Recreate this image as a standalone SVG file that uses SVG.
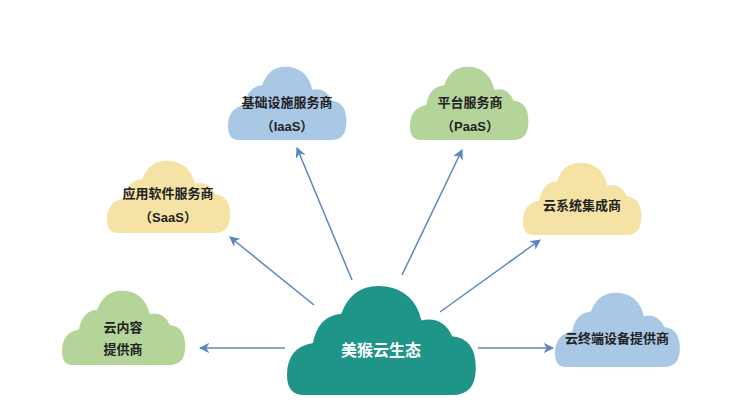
<svg xmlns="http://www.w3.org/2000/svg" width="750" height="413" viewBox="0 0 750 413">
<style>
text{font-family:"Liberation Sans","Noto Sans CJK SC",sans-serif;font-weight:bold;font-size:13px;fill:#222;text-anchor:middle}
.c text{}
.ar{stroke:#5b87c0;stroke-width:1.5;fill:none;marker-end:url(#m)}
</style>
<defs>
<marker id="m" viewBox="0 0 10 10" refX="9" refY="5" markerWidth="7" markerHeight="7" orient="auto"><path d="M0,0L10,5L0,10L3,5Z" fill="#5b87c0"/></marker>
<path id="cl" d="M14,100 Q0,100 0,82 Q0,58 22,54 Q26,30 46,28 Q56,0 84,4 Q108,8 114,34 Q132,30 140,48 Q160,50 160,76 Q160,100 140,100 Z"/>
</defs>
<rect width="750" height="413" fill="#fff"/>
<g id="connectors">
<line class="ar" x1="352" y1="280" x2="297" y2="148"/>
<line class="ar" x1="402" y1="275" x2="462" y2="150"/>
<line class="ar" x1="314" y1="305" x2="230" y2="237"/>
<line class="ar" x1="440" y1="312" x2="540" y2="240"/>
<line class="ar" x1="285" y1="348" x2="200" y2="348"/>
<line class="ar" x1="478" y1="348" x2="553" y2="348"/>
</g>
<g id="iaas"><use href="#cl" fill="#a9c8e6" transform="translate(228,64) scale(0.74,0.76)"/><text x="287" y="107">基础设施服务商</text><text x="287" y="131">（IaaS）</text></g>
<g id="paas"><use href="#cl" fill="#b5d49a" transform="translate(410,64) scale(0.74,0.76)"/><text x="470" y="107">平台服务商</text><text x="470" y="131">（PaaS）</text></g>
<g id="saas"><use href="#cl" fill="#f5e3a6" transform="translate(107,158) scale(0.77,0.75)"/><text x="168" y="198">应用软件服务商</text><text x="168" y="222">（SaaS）</text></g>
<g id="si"><use href="#cl" fill="#f5e3a6" transform="translate(523,160) scale(0.74,0.75)"/><text x="582" y="210">云系统集成商</text></g>
<g id="content"><use href="#cl" fill="#b5d49a" transform="translate(62,288) scale(0.77,0.77)"/><text x="123" y="332">云内容</text><text x="123" y="354">提供商</text></g>
<g id="terminal"><use href="#cl" fill="#a9c8e6" transform="translate(555,290) scale(0.78,0.77)"/><text x="617" y="343">云终端设备提供商</text></g>
<g id="center"><use href="#cl" fill="#1f9488" transform="translate(287,282) scale(1.18,1.13)"/><text x="381" y="356" style="fill:#fff;font-size:16px">美猴云生态</text></g>
</svg>
